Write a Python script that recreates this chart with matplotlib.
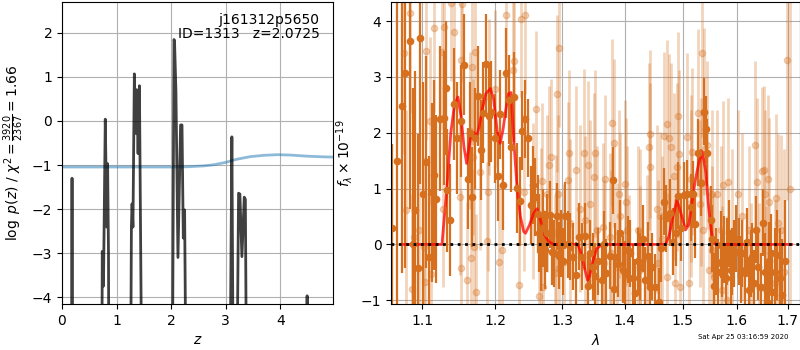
import matplotlib
matplotlib.use("Agg")
import matplotlib.pyplot as plt
import numpy as np
from matplotlib.ticker import NullLocator

# ---- p(z) panel ----
pz_z = [0.000, 0.175, 0.184, 0.193,
        0.722, 0.738, 0.760, 0.793, 0.822, 0.836, 0.852, 0.866,
        1.245, 1.272, 1.284, 1.300, 1.326, 1.351, 1.370, 1.394, 1.419, 1.480,
        2.012, 2.052, 2.062, 2.088, 2.125, 2.173, 2.199, 2.223, 2.247, 2.290,
        3.062, 3.113, 3.150, 3.185, 3.236, 3.260, 3.297, 3.340, 3.360, 3.396,
        4.482, 4.492, 4.500, 4.970]
pz_logp = [-9.0, -9.0, -1.30, -9.0,
           -9.0, -2.96, -3.75, 0.04, -2.41, -0.97, -3.0, -9.0,
           -9.0, -2.40, -1.88, -2.41, 1.07, -0.28, 0.71, -0.74, 0.80, -9.0,
           -9.0, 1.85, 1.82, 0.67, -3.10, -0.09, -0.09, -2.66, -2.02, -9.0,
           -9.0, -0.36, -9.0, -9.0, -1.64, -1.66, -3.08, -1.73, -1.78, -9.0,
           -9.0, -3.97, -9.0, -9.0]

prior_z = [0.0, 1.0, 2.0, 2.3, 2.6, 2.8, 3.0, 3.2, 3.45, 3.7, 3.95, 4.2, 4.5, 4.8, 5.0]
prior_logp = [-1.045, -1.045, -1.045, -1.04, -1.02, -0.99, -0.94, -0.87,
              -0.81, -0.78, -0.765, -0.775, -0.80, -0.815, -0.82]

# ---- spectrum panel ----
dark_wave = [
    1.0615, 1.0668, 1.0736, 1.0771, 1.0835, 1.0878, 1.0909, 1.0939, 1.0974, 1.1015,
    1.1053, 1.1083, 1.1128, 1.1159, 1.1185, 1.1239, 1.1283, 1.1310, 1.1328, 1.1373,
    1.1419, 1.1470, 1.1522, 1.1563, 1.1611, 1.1640, 1.1677, 1.1710, 1.1750, 1.1793,
    1.1821, 1.1871, 1.1910, 1.1940, 1.1990, 1.2034, 1.2063, 1.2111, 1.2149, 1.2193,
    1.2227, 1.2266, 1.2315, 1.2354, 1.2388, 1.2428, 1.2472, 1.2517, 1.2552, 1.2587,
    1.2620, 1.2647, 1.2665, 1.2700, 1.2738, 1.2770, 1.2804, 1.2835, 1.2865, 1.2916,
    1.2950, 1.2978, 1.3010, 1.3045, 1.3085, 1.3123, 1.3165, 1.3218, 1.3255, 1.3307,
    1.3350, 1.3403, 1.3441, 1.3480, 1.3521, 1.3570, 1.3629, 1.3665, 1.3699, 1.3750,
    1.3809, 1.3820, 1.3847, 1.3890, 1.3930, 1.3970, 1.4013, 1.4055, 1.4097, 1.4140,
    1.4181, 1.4225, 1.4266, 1.4310, 1.4352, 1.4395, 1.4437, 1.4470, 1.4507, 1.4582,
    1.4628, 1.4680, 1.4715, 1.4775, 1.4830, 1.4879, 1.4916, 1.4970, 1.5024, 1.5083,
    1.5143, 1.5190, 1.5233, 1.5280, 1.5330, 1.5380, 1.5417, 1.5450, 1.5509, 1.5540,
    1.5570, 1.5610, 1.5650, 1.5695, 1.5725, 1.5757, 1.5790, 1.5820, 1.5850, 1.5883,
    1.5915, 1.5946, 1.5990, 1.6041, 1.6075, 1.6105, 1.6156, 1.6195, 1.6233, 1.6265,
    1.6298, 1.6330, 1.6363, 1.6410, 1.6460, 1.6505, 1.6550, 1.6592, 1.6625, 1.6658,
    1.6691, 1.6740, 1.6790, 1.6840, 1.6890, 1.6950]
dark_flux = [
    0.30, 1.50, 2.48, 3.07, 3.64, 0.00, 0.61, -0.43, 3.69, 0.90,
    1.47, -0.22, 0.93, 1.24, 0.81, 2.25, 2.26, 2.81, 0.97, 0.44,
    2.51, 1.90, 2.21, 3.22, 1.18, 2.00, 0.85, 1.90, 2.66, 1.69,
    2.36, 3.23, 2.30, 2.38, 1.90, 1.22, 2.33, 1.06, 3.07, 2.59,
    1.74, 2.64, 1.01, 0.77, 2.04, 2.25, 1.91, 0.70, 1.06, 0.85,
    0.55, 0.20, -0.13, 0.30, -0.10, 0.20, 0.53, -0.13, -0.16, 0.50,
    -0.20, 0.02, -0.30, 0.51, 0.00, -0.04, -0.22, -0.55, 0.14, -0.22,
    0.15, -0.75, -0.16, -0.40, -0.57, -0.30, -0.63, 0.00, -0.51, -0.20,
    1.15, -0.79, -0.22, -0.35, 0.20, -0.45, -0.53, -0.10, -0.16, -0.60,
    -0.87, -0.30, -0.40, 0.10, -0.64, -0.20, -0.76, -0.40, -0.77, -1.03,
    -0.07, 0.76, 0.47, 0.57, 0.05, 0.21, 0.87, 0.30, 0.88, 0.91,
    0.67, 0.90, 0.36, 1.64, 1.10, 2.38, 2.06, 1.64, 0.44, 0.10,
    -0.75, -0.30, -0.50, -0.01, -0.35, -0.10, -0.60, -0.13, 0.20, -0.46,
    -0.30, -0.16, 0.10, -0.13, -0.45, -0.16, -0.52, 0.05, -0.82, -0.35,
    -0.22, -0.70, 0.26, -0.40, -0.76, 0.39, -0.50, -1.03, -0.30, -0.16,
    -0.85, -0.50, -0.19, -0.60, -0.90, -0.30]
dark_err = [
    1.5, 3.2, 3.0, 3.5, 3.0, 2.8, 2.5, 2.4, 2.6, 2.0,
    1.9, 1.8, 1.6, 1.7, 1.5, 1.3, 1.2, 1.2, 1.1, 1.0,
    1.0, 1.0, 1.0, 0.9, 0.9, 0.9, 0.9, 0.9, 0.9, 0.9,
    0.9, 0.9, 0.9, 0.9, 0.8, 0.8, 0.8, 0.8, 0.8, 0.8,
    0.8, 0.8, 0.8, 0.8, 0.7, 0.7, 0.7, 0.7, 0.7, 0.7,
    0.7, 0.7, 0.7, 0.7, 0.7, 0.7, 0.6, 0.6, 0.6, 0.6,
    0.6, 0.6, 0.6, 0.6, 0.6, 0.6, 0.6, 0.6, 0.6, 0.6,
    0.6, 0.6, 0.6, 0.6, 0.6, 0.6, 0.6, 0.6, 0.6, 0.6,
    0.6, 0.6, 0.6, 0.6, 0.6, 0.6, 0.6, 0.6, 0.6, 0.6,
    0.6, 0.6, 0.6, 0.6, 0.6, 0.6, 0.6, 0.6, 0.6, 0.6,
    0.6, 0.6, 0.6, 0.6, 0.6, 0.6, 0.6, 0.6, 0.6, 0.6,
    0.6, 0.6, 0.6, 0.6, 0.6, 0.6, 0.6, 0.6, 0.6, 0.6,
    0.6, 0.6, 0.6, 0.6, 0.6, 0.6, 0.6, 0.6, 0.6, 0.6,
    0.6, 0.6, 0.6, 0.6, 0.6, 0.6, 0.6, 0.6, 0.6, 0.6,
    0.6, 0.6, 0.6, 0.6, 0.6, 0.6, 0.7, 0.7, 0.7, 0.7,
    0.7, 0.8, 0.8, 0.9, 1.0, 1.1]

light_wave = [
    1.0757, 1.0788, 1.0843, 1.0860, 1.0887, 1.0952, 1.1018, 1.1035, 1.1053, 1.1106,
    1.1120, 1.1150, 1.1262, 1.1275, 1.1283, 1.1387, 1.1418, 1.1499, 1.1518, 1.1522,
    1.1535, 1.1599, 1.1645, 1.1659, 1.1668, 1.1690, 1.1700, 1.1712, 1.1728, 1.1780,
    1.1885, 1.1903, 1.1917, 1.2001, 1.2048, 1.2101, 1.2159, 1.2256, 1.2276, 1.2339,
    1.2374, 1.2413, 1.2438, 1.2552, 1.2602, 1.2637, 1.2672, 1.2687, 1.2700, 1.2763,
    1.2789, 1.2824, 1.2891, 1.2900, 1.2916, 1.2930, 1.2942, 1.2947, 1.3019, 1.3082,
    1.3097, 1.3123, 1.3218, 1.3281, 1.3334, 1.3360, 1.3403, 1.3430, 1.3494, 1.3521,
    1.3547, 1.3645, 1.3656, 1.3683, 1.3765, 1.3775, 1.3792, 1.3820, 1.3874, 1.3902,
    1.3930, 1.4013, 1.4030, 1.4041, 1.4069, 1.4221, 1.4255, 1.4266, 1.4380, 1.4409,
    1.4426, 1.4437, 1.4553, 1.4565, 1.4599, 1.4640, 1.4669, 1.4716, 1.4728, 1.4757,
    1.4786, 1.4845, 1.4871, 1.4893, 1.4916, 1.4935, 1.4958, 1.5083, 1.5114, 1.5143,
    1.5155, 1.5173, 1.5283, 1.5310, 1.5325, 1.5356, 1.5370, 1.5387, 1.5448, 1.5478,
    1.5528, 1.5540, 1.5571, 1.5633, 1.5695, 1.5726, 1.5738, 1.5820, 1.5839, 1.5915,
    1.6029, 1.6092, 1.6233, 1.6266, 1.6349, 1.6382, 1.6427, 1.6480, 1.6525, 1.6540,
    1.6572, 1.6600, 1.6624, 1.6740, 1.6757, 1.6811, 1.6877, 1.6930, 1.6991, 1.7040]
light_flux = [
    3.42, 0.61, 4.15, -0.79, 0.13, 0.26, -0.04, -0.67, 3.47, 2.21,
    -0.53, 3.87, 3.45, 0.63, 3.90, 4.33, 3.80, 0.85, -0.43, 3.31,
    4.30, -0.64, 2.04, -0.25, 3.18, 1.57, -0.05, 3.45, -0.85, 1.30,
    0.07, 0.93, 2.64, 2.79, -0.31, -0.10, 4.10, 3.12, 3.28, -0.73,
    4.04, 0.93, 4.10, 0.78, 2.42, -0.92, 0.32, 1.13, -0.76, 0.91,
    1.43, 1.57, -0.52, 0.20, 2.70, 0.91, -0.43, 3.51, -0.31, 1.15,
    1.63, 0.38, 1.33, 0.64, 1.64, 0.44, 1.43, 0.72, 1.21, 1.63,
    0.26, 0.32, -0.34, 1.18, 0.13, -0.16, 2.18, 1.82, -0.40, 0.90,
    0.50, 1.09, 0.76, 0.26, -0.61, 0.26, 0.20, -0.46, -0.25, 1.75,
    1.98, 1.39, 0.63, -0.34, 0.51, 0.09, 1.94, 2.16, -0.58, 1.91,
    1.75, 1.22, -0.69, 1.39, 2.30, 1.62, -0.76, 1.92, -0.70, 1.18,
    0.91, 1.66, 2.35, 0.73, 1.12, 3.42, 0.26, 2.38, 1.78, -0.46,
    -0.10, 0.91, -0.58, 0.91, 0.26, -0.82, 1.06, -1.00, 1.12, 0.20,
    0.90, 0.50, 0.26, -0.76, 1.78, 1.12, -0.76, 1.32, 1.33, 0.91,
    -0.82, 1.18, 0.76, -0.70, 0.84, 0.38, 0.26, -0.50, 3.30, 1.00]
light_err = [
    1.8, 1.8, 1.8, 1.7, 1.7, 1.7, 1.6, 1.6, 1.6, 1.5,
    1.5, 1.5, 1.4, 1.4, 1.4, 1.4, 1.4, 1.4, 1.4, 1.4,
    1.4, 1.4, 1.4, 1.4, 1.4, 1.4, 1.4, 1.4, 1.4, 1.4,
    1.4, 1.4, 1.4, 1.4, 1.4, 1.4, 1.4, 1.4, 1.4, 1.4,
    1.4, 1.4, 1.4, 1.4, 1.4, 1.4, 1.4, 1.4, 1.4, 1.4,
    1.4, 1.4, 1.4, 1.4, 1.4, 1.4, 1.4, 1.4, 1.4, 1.4,
    1.5, 1.5, 1.5, 1.5, 1.5, 1.5, 1.5, 1.5, 1.5, 1.5,
    1.5, 1.5, 1.5, 1.5, 1.5, 1.5, 1.5, 1.5, 1.5, 1.5,
    1.5, 1.5, 1.5, 1.5, 1.5, 1.5, 1.5, 1.5, 1.5, 1.5,
    1.5, 1.5, 1.5, 1.5, 1.5, 1.5, 1.5, 1.5, 1.5, 1.5,
    1.5, 1.5, 1.5, 1.5, 1.5, 1.5, 1.5, 1.5, 1.5, 1.5,
    1.5, 1.5, 1.5, 1.5, 1.5, 1.5, 1.5, 1.5, 1.5, 1.5,
    1.5, 1.5, 1.5, 1.5, 1.5, 1.5, 1.5, 1.5, 1.5, 1.5,
    1.5, 1.5, 1.5, 1.5, 1.5, 1.5, 1.5, 1.5, 1.5, 1.5,
    1.5, 1.5, 1.5, 1.5, 1.5, 1.6, 1.7, 2.2, 2.5, 3.5]

model_wave = [1.0758, 1.1261, 1.1300, 1.1327, 1.1380, 1.1430, 1.1477, 1.1520,
              1.1560, 1.1597, 1.1630, 1.1664, 1.1700, 1.1731, 1.1770, 1.1812,
              1.1866, 1.1930, 1.1977, 1.2030, 1.2070, 1.2110, 1.2150, 1.2190,
              1.2227, 1.2276, 1.2315, 1.2364, 1.2413, 1.2440, 1.2500, 1.2560,
              1.2612, 1.2660, 1.2711, 1.2789, 1.2865, 1.3239, 1.3290, 1.3340,
              1.3395, 1.3430, 1.3480, 1.3540, 1.3628, 1.4698, 1.4760, 1.4830,
              1.4900, 1.4960, 1.5053, 1.5110, 1.5170, 1.5230, 1.5290, 1.5356,
              1.5420, 1.5470, 1.5520, 1.5560, 1.5601, 1.7083]
model_flux = [0.0, 0.0, 0.6, 1.0, 2.0, 2.5, 2.64, 2.3,
              1.75, 1.45, 1.75, 1.99, 2.0, 1.93, 2.1, 2.4,
              2.7, 2.79, 2.6, 2.0, 1.81, 2.05, 2.4, 2.7,
              2.72, 1.7, 1.03, 0.5, 0.23, 0.2, 0.35, 0.55,
              0.64, 0.45, 0.2, 0.05, 0.0, 0.0, -0.15, -0.4,
              -0.64, -0.55, -0.3, -0.08, 0.0, 0.0, 0.15, 0.5,
              0.79, 0.6, 0.26, 0.35, 0.75, 1.15, 1.45, 1.66,
              1.3, 0.7, 0.25, 0.05, 0.0, 0.0]

wave_ticks = [1.1, 1.2, 1.3, 1.4, 1.5, 1.6, 1.7]
obj_label = 'j161312p5650\nID=1313   z=2.0725'
timestamp = 'Sat Apr 25 03:16:59 2020'

grism_color = '#d6701e'

fig = plt.figure(figsize=(8, 3.5), dpi=100)
ax1 = fig.add_axes([0.0775, 0.131, 0.339, 0.863])
ax2 = fig.add_axes([0.489, 0.131, 0.5105, 0.863])

# p(z)
ax1.plot(prior_z, prior_logp, color='tab:blue', alpha=0.5, lw=2)
ax1.plot(pz_z, pz_logp, color='k', alpha=0.75, lw=2)
ax1.set_xlim(0, 4.97)
ax1.set_ylim(-4.16, 2.7)
ax1.set_xticks([0, 1, 2, 3, 4])
ax1.set_yticks([-4, -3, -2, -1, 0, 1, 2])
ax1.grid()
ax1.set_xlabel(r'$z$')
ax1.set_ylabel(r'$\log\ p(z)$ / $\chi^2=\frac{3920}{2367}=1.66$')
ax1.text(0.95, 0.965, obj_label, transform=ax1.transAxes,
         ha='right', va='top', fontsize=10, linespacing=1.05)

# spectrum: two sets of 1D extractions plus the best-fit model
ax2.errorbar(light_wave, light_flux, yerr=light_err, color=grism_color,
             alpha=0.3, marker='o', ms=4.5, ls='none', elinewidth=2, capsize=0)
ax2.errorbar(dark_wave, dark_flux, yerr=dark_err, color=grism_color,
             marker='o', ms=4.5, ls='none', elinewidth=1.6, capsize=0)
ax2.plot(model_wave, model_flux, color='r', alpha=0.75, lw=2)
ax2.plot([1.06, 1.7245], [0, 0], color='k', ls=':', lw=2, zorder=10)

ax2.set_xscale('log')
ax2.set_xlim(1.06, 1.7245)
ax2.set_ylim(-1.07, 4.34)
ax2.set_xticks(wave_ticks)
ax2.set_xticklabels([f'{w:.1f}' for w in wave_ticks])
ax2.xaxis.set_minor_locator(NullLocator())
ax2.set_yticks([-1, 0, 1, 2, 3, 4])
ax2.grid()
ax2.set_xlabel(r'$\lambda$')
ax2.set_ylabel(r'$f_\lambda\times10^{-19}$')

fig.text(0.985, 0.028, timestamp, ha='right', va='bottom', fontsize=5)

fig.savefig('out.png', dpi=100)
